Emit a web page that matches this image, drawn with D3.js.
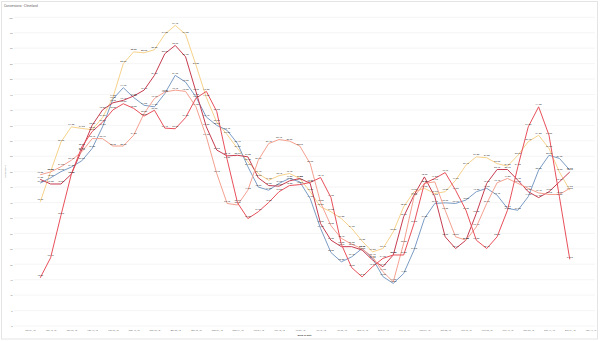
<!DOCTYPE html>
<html><head><meta charset="utf-8">
<script src="https://cdn.jsdelivr.net/npm/d3@7"></script>
<style>
html,body{margin:0;padding:0;background:#fff;}
svg{display:block;font-family:Roboto,"Liberation Sans",Arial,sans-serif;}
</style></head>
<body><svg id="c" width="600" height="341"></svg>
<script>
// ---- data ----
const title = "Conversions - Cleveland";
const yTitle = "Conversions";
const xTitle = "Week of Date";
const yTicks = [0,5,10,15,20,25,30,35,40,45,50,55,60,65,70,75,80,85,90,95,100];
const firstWeek = "2018-01-08";
const lastWeek = "2018-12-31";
const seriesNames = ["Series 1","Series 2","Series 3","Series 4","Series 5"];
const seriesColors = ["#f6d28b","#7b9cc4","#c63c50","#f4a090","#e8505b"];
const yellowVals = [40.2,50.0,59.6,64.5,64.0,63.6,67.5,74.0,85.0,88.8,88.5,89.5,94.5,97.4,94.5,84.5,74.0,66.0,62.0,57.5,53.2,49.4,47.2,48.7,49.4,47.8,43.5,38.6,37.0,34.8,31.6,27.5,24.0,25.1,30.5,38.6,43.5,44.6,42.9,43.5,47.2,52.1,54.8,54.5,52.6,51.8,55.3,59.7,61.8,57.5,49.9,44.0];
const blueVals = [46.3,48.0,50.0,51.5,53.5,57.5,64.5,73.5,77.2,74.0,71.5,71.0,75.3,81.2,79.0,74.2,67.7,65.0,63.4,59.1,51.6,45.0,44.0,46.2,47.8,46.7,41.3,31.6,23.8,20.8,22.4,25.1,21.9,16.0,13.8,17.0,24.6,34.8,39.7,39.9,39.7,40.8,43.5,44.6,42.4,38.1,37.5,41.9,50.5,55.3,54.3,50.5];
const darkRedVals = [47.5,46.0,46.0,49.2,57.0,65.0,70.0,72.3,73.1,74.5,76.4,81.2,88.2,90.9,87.2,75.9,64.5,57.0,55.1,55.3,54.8,48.0,45.5,45.3,47.0,47.8,46.2,33.2,27.8,25.7,25.7,24.6,21.4,19.2,23.0,35.4,42.4,48.3,41.9,28.9,25.1,27.8,36.5,46.2,50.7,50.7,47.2,43.5,41.6,43.5,46.7,49.9];
const salmonVals = [49.0,49.9,51.6,53.7,56.4,60.7,60.7,58.3,58.3,61.8,68.8,73.7,75.8,76.4,76.0,71.0,61.3,49.4,39.7,39.2,44.0,53.7,59.1,60.4,59.9,58.3,52.6,40.0,32.5,28.4,26.5,25.0,22.4,17.6,14.3,26.8,41.9,46.2,46.7,37.5,28.9,27.8,32.1,39.7,46.4,47.8,46.2,44.6,43.1,42.6,42.6,44.6];
const redVals = [15.6,22.1,35.9,49.2,58.0,63.0,66.0,70.0,72.0,70.5,68.0,69.9,64.1,63.9,67.5,73.8,76.0,69.5,54.0,39.9,34.8,37.0,40.0,43.5,45.5,45.8,46.5,48.1,41.6,26.5,18.9,15.9,19.2,21.9,23.0,23.0,33.2,46.2,47.8,49.7,44.0,37.5,27.8,25.1,28.9,37.5,51.6,64.5,71.0,61.8,41.9,21.6];

// ---- build ----
const parse = d3.utcParse("%Y-%m-%d");
const weeks = d3.utcMonday.range(parse(firstWeek), d3.utcDay.offset(parse(lastWeek), 1));
const allVals = [yellowVals, blueVals, darkRedVals, salmonVals, redVals];
const series = seriesNames.map((n,k)=>({name:n,color:seriesColors[k],values:allVals[k].map((v,i)=>({date:weeks[i],v}))}));

const svg = d3.select("#c");
const L = 14, R = 595, T = 17.3, B = 326;

svg.append("rect").attr("x",1.5).attr("y",1.5).attr("width",596).attr("height",337.5)
  .attr("fill","#fff").attr("stroke","#e4e4e4");

const x = d3.scaleUtc()
  .domain([d3.utcDay.offset(weeks[0], -17), d3.utcDay.offset(weeks[weeks.length-1], 17)])
  .range([L+1, R]);
const y = d3.scaleLinear().domain([0,100]).range([B, T]);

// title
svg.append("text").attr("x",4).attr("y",7).attr("font-size",3.2).attr("fill","#666").text(title);

// grid
svg.append("g").selectAll("line").data(yTicks).join("line")
  .attr("x1",L).attr("x2",R).attr("y1",d=>y(d)).attr("y2",d=>y(d))
  .attr("stroke","#eeeeee").attr("stroke-width",0.6);

// y axis
const yAxis = svg.append("g").attr("transform",`translate(${L-1.5},0)`)
  .call(d3.axisLeft(y).tickValues(yTicks).tickSize(0).tickPadding(0));
yAxis.select(".domain").remove();
yAxis.selectAll("text").attr("font-size",2.3).attr("fill","#777").attr("font-family","Roboto,Arial,sans-serif");

svg.append("text").attr("transform",`translate(5.5,${(T+B)/2}) rotate(-90)`)
  .attr("text-anchor","middle").attr("font-size",2.3).attr("fill","#666").text(yTitle);

// x axis
const ticks2 = d3.range(0,28).map(k=>d3.utcDay.offset(weeks[0], -7 + 14*k));
const xAxis = svg.append("g").attr("transform",`translate(0,${B+3.5})`)
  .call(d3.axisBottom(x).tickValues(ticks2).tickFormat(d3.utcFormat("%b %d, %y")).tickSize(0).tickPadding(0));
xAxis.select(".domain").remove();
xAxis.selectAll("text").attr("font-size",2.3).attr("fill","#777").attr("font-family","Roboto,Arial,sans-serif");

svg.append("text").attr("x",(L+R)/2).attr("y",336).attr("text-anchor","middle")
  .attr("font-size",2.4).attr("fill","#444").attr("font-weight","bold").text(xTitle);

// lines
const line = d3.line().x(d=>x(d.date)).y(d=>y(d.v));
svg.append("g").selectAll("path").data(series).join("path")
  .attr("d",d=>line(d.values)).attr("fill","none")
  .attr("stroke",d=>d.color).attr("stroke-width",1).attr("stroke-linejoin","round");

// labels
const fmt = d3.format(".2f");
svg.append("g").selectAll("g").data(series).join("g")
  .selectAll("text").data(d=>d.values).join("text")
  .attr("x",d=>x(d.date)).attr("y",d=>y(d.v)-1.5).attr("text-anchor","middle")
  .attr("font-size",2.4).attr("fill","#333").text(d=>fmt(d.v));
</script></body></html>
